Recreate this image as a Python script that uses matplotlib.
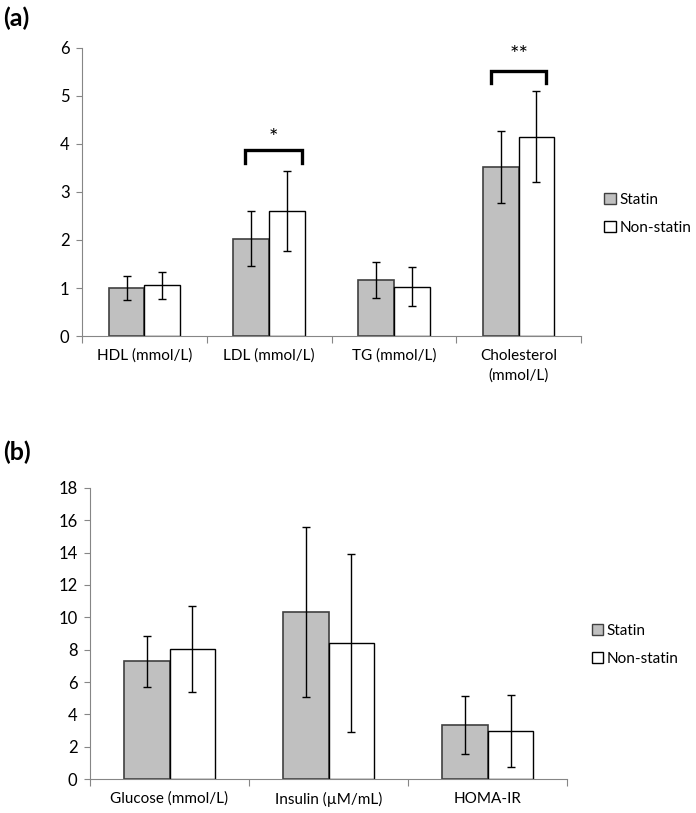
import numpy as np
import matplotlib
matplotlib.use('Agg')
import matplotlib.pyplot as plt
from matplotlib.patches import Patch

plt.rcParams['font.family'] = ['Lato', 'DejaVu Sans']

# panel (a) : lipides
cats_a = ['HDL (mmol/L)', 'LDL (mmol/L)', 'TG (mmol/L)', 'Cholesterol\n(mmol/L)']
statin_a = [1.00, 2.03, 1.17, 3.53]
statin_a_err = [0.24, 0.58, 0.38, 0.75]
non_a = [1.06, 2.61, 1.03, 4.15]
non_a_err = [0.28, 0.83, 0.40, 0.95]

# panel (b) : glucose / insuline
cats_b = ['Glucose (mmol/L)', 'Insulin (\u00b5M/mL)', 'HOMA-IR']
statin_b = [7.28, 10.31, 3.37]
statin_b_err = [1.57, 5.25, 1.80]
non_b = [8.04, 8.43, 2.98]
non_b_err = [2.65, 5.50, 2.20]

labels = ['Statin', 'Non-statin']
gris = '#c0c0c0'
axe_col = '#868686'


def panneau(fig, ax, cats, s, se, ns, nse, ymax, pas, leg_pos):
    n = len(cats)
    x = np.arange(n)
    w = 0.286
    ax.bar(x - w/2, s, w, color=gris, edgecolor='#404040', linewidth=1.2, zorder=2)
    ax.bar(x + w/2, ns, w, color='white', edgecolor='black', linewidth=1.0, zorder=2)
    ax.errorbar(x - w/2, s, yerr=se, fmt='none', ecolor='black', elinewidth=1, capsize=3, capthick=1, zorder=3)
    ax.errorbar(x + w/2, ns, yerr=nse, fmt='none', ecolor='black', elinewidth=1, capsize=3, capthick=1, zorder=3)
    ax.set_xlim(-0.5, n - 0.5)
    ax.set_ylim(0, ymax)
    ax.set_yticks(np.arange(0, ymax + 0.1, pas))
    ax.set_xticks(np.arange(-0.5, n, 1))
    ax.set_xticklabels([])
    ax.set_xticks(x, minor=True)
    ax.set_xticklabels(cats, minor=True, fontsize=11, linespacing=1.5)
    ax.tick_params(axis='x', which='major', length=5, color=axe_col, direction='out')
    ax.tick_params(axis='x', which='minor', length=0, pad=9)
    ax.tick_params(axis='y', length=4, color=axe_col, labelsize=12, pad=5)
    for sp in ['top', 'right']:
        ax.spines[sp].set_visible(False)
    for sp in ['left', 'bottom']:
        ax.spines[sp].set_color(axe_col)
    handles = [Patch(facecolor=gris, edgecolor='#404040'), Patch(facecolor='white', edgecolor='black')]
    ax.legend(handles, labels, loc='center left', bbox_to_anchor=leg_pos, bbox_transform=fig.transFigure,
              frameon=False, borderaxespad=0, borderpad=0,
              fontsize=11, handlelength=0.75, handleheight=0.75, handletextpad=0.25, labelspacing=0.9)


def crochet(ax, xc, x0, x1, yh, yb, txt, yt):
    ax.plot([xc + x0, xc + x0, xc + x1, xc + x1], [yb, yh, yh, yb], color='black', lw=2.4,
            solid_joinstyle='miter', clip_on=False, zorder=4)
    ax.text(xc + (x0 + x1)/2, yt, txt, ha='center', va='center', fontsize=16)


fig = plt.figure(figsize=(6.96, 8.13), dpi=100)
ax1 = fig.add_axes([0.1178, 0.5867, 0.717, 0.3543])
ax2 = fig.add_axes([0.1293, 0.0415, 0.6858, 0.3586])

panneau(fig, ax1, cats_a, statin_a, statin_a_err, non_a, non_a_err, 6, 1, (0.868, 0.737))
panneau(fig, ax2, cats_b, statin_b, statin_b_err, non_b, non_b_err, 18, 2, (0.850, 0.2066))

crochet(ax1, 1, -0.19, 0.26, 3.875, 3.6, '*', 4.12)
crochet(ax1, 3, -0.22, 0.22, 5.52, 5.27, '**', 5.86)

fig.text(0.005, 0.977, '(a)', fontsize=18, fontweight='bold', va='center')
fig.text(0.005, 0.444, '(b)', fontsize=18, fontweight='bold', va='center')

fig.savefig('out.png', dpi=100)
